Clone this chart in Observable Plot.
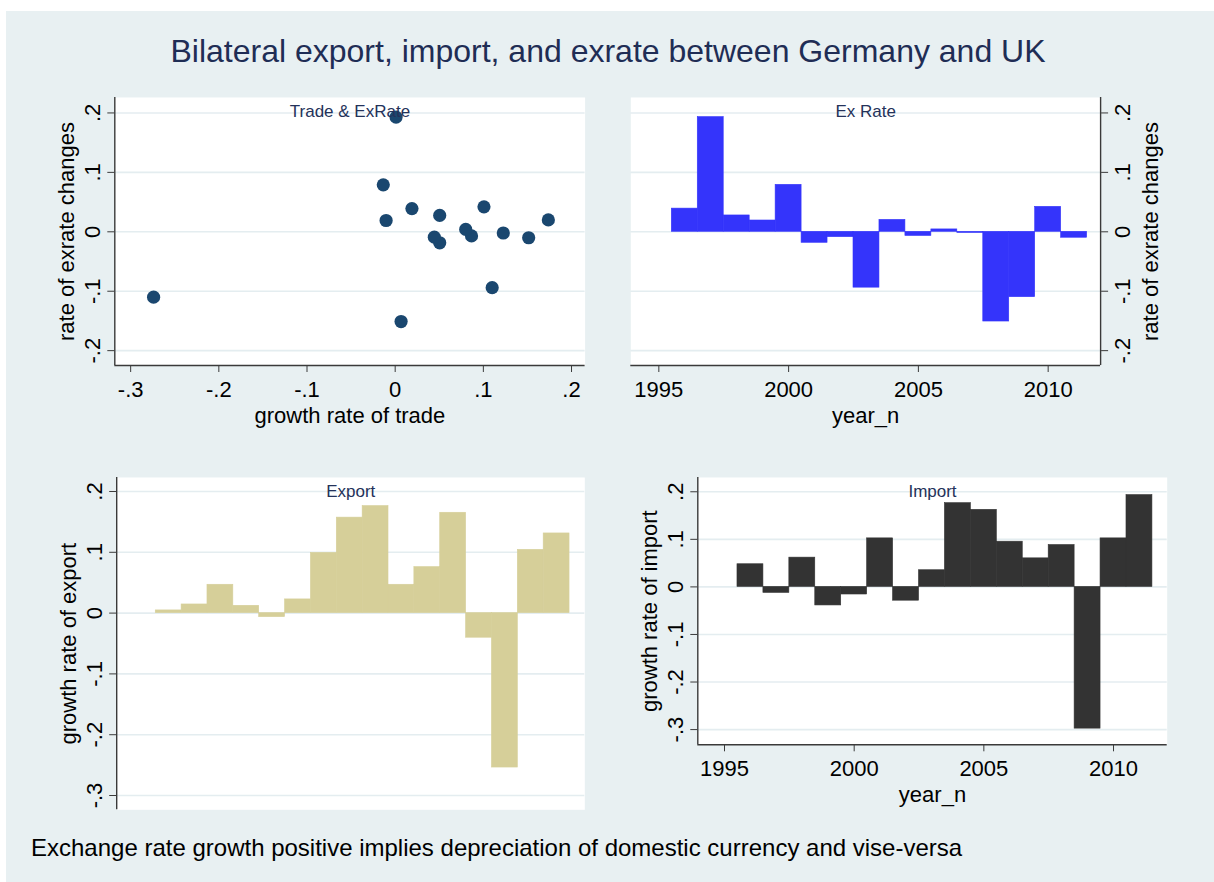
<!DOCTYPE html>
<html><head><meta charset="utf-8">
<script src="https://cdn.jsdelivr.net/npm/d3@7"></script>
<script src="https://cdn.jsdelivr.net/npm/@observablehq/plot@0.6"></script>
<style>
html,body{margin:0;padding:0;background:#fff;}
#wrap{position:relative;width:1214px;height:882px;overflow:hidden;font-family:"Liberation Sans",Arial,Helvetica,sans-serif;}
#bg{position:absolute;left:6px;top:11px;right:0;bottom:0;background:#e8f0f2;}
.panel{position:absolute;}
#title{position:absolute;left:0;width:1216px;top:35px;text-align:center;font-size:32px;line-height:32px;color:#1f2d55;white-space:nowrap;}
#caption{position:absolute;left:31px;top:836px;font-size:24px;line-height:24px;color:#000;white-space:nowrap;}
</style></head>
<body>
<div id="wrap">
<div id="bg"></div>
<div id="title">Bilateral export, import, and exrate between Germany and UK</div>
<div id="caption">Exchange rate growth positive implies depreciation of domestic currency and vise-versa</div>
</div>
<script>
// ---- data ----
const years = [1996,1997,1998,1999,2000,2001,2002,2003,2004,2005,2006,2007,2008,2009,2010,2011];
const exrateGrowth = [0.039,0.193,0.0275,0.019,0.079,-0.0185,-0.009,-0.094,0.020,-0.007,0.004,-0.002,-0.151,-0.110,0.042,-0.010];
const tradeGrowth  = [0.019,0.001,0.0505,-0.0103,-0.0135,0.0505,0.0444,0.110,0.1737,0.0866,0.080,0.1226,0.0067,-0.274,0.1007,0.1514];
const exportGrowth = [0.0044,0.0142,0.0466,0.012,-0.0066,0.0225,0.099,0.157,0.176,0.0466,0.0756,0.165,-0.0405,-0.254,0.104,0.131];
const importGrowth = [0.0476,-0.0126,0.0615,-0.039,-0.016,0.102,-0.029,0.035,0.176,0.162,0.095,0.060,0.088,-0.298,0.102,0.193];

const exrateTicks = [-0.2,-0.1,0,0.1,0.2];
const growthTicks = [-0.3,-0.2,-0.1,0,0.1,0.2];
const tradeTicks  = [-0.3,-0.2,-0.1,0,0.1,0.2];
const yearTicks   = [1995,2000,2005,2010];

const titles = {
  scatter: "Trade & ExRate", ex: "Ex Rate", exp: "Export", imp: "Import",
  tradeX: "growth rate of trade", exY: "rate of exrate changes",
  yearX: "year_n", expY: "growth rate of export", impY: "growth rate of import"
};

// ---- styling ----
const FONT = '"Liberation Sans", Arial, Helvetica, sans-serif';
const GRID = "#e4edf0";
const AXIS = "#3a3a3a";
const NAVY = "#1a476f";
const SUBC = "#24325a";
const BLUE = "#3434fb";
const SAND = "#d6cf99";
const DARK = "#333333";

const fmt = d => d === 0 ? "0" : (d < 0 ? "-" : "") + Math.abs(d).toFixed(1).replace(/^0/, "");
const yearFmt = d => String(d);

const byYear = vals => years.map((year, i) => ({year, v: vals[i]}));
const scatterData = years.map((year, i) => ({year, trade: tradeGrowth[i], ex: exrateGrowth[i]}));

function bars(vals, color) {
  return Plot.rect(byYear(vals), {
    x1: d => d.year - 0.5, x2: d => d.year + 0.5, y1: 0, y2: "v",
    fill: color, stroke: color, strokeWidth: 0.6
  });
}

function panel(o) {
  const left = o.yAnchor === "left";
  const marks = [
    Plot.frame({fill: "white", stroke: null}),
    Plot.gridY(o.yTicks, {stroke: GRID, strokeOpacity: 1, strokeWidth: 1.6}),
    ...o.marks,
    Plot.text([o.sub], {frameAnchor: "top", dy: 14, lineAnchor: "middle", fontSize: 17, fill: SUBC}),
    Plot.axisY(o.yTicks, {anchor: o.yAnchor, tickSize: 7, tickPadding: 15, tickRotate: -90,
      textAnchor: "middle", lineAnchor: "middle", tickFormat: fmt, fontSize: 22,
      label: null, stroke: AXIS, fill: "#000"}),
    Plot.ruleX([o.xDomain[left ? 0 : 1]], {stroke: AXIS, strokeWidth: 1.4}),
    Plot.text([o.yLabel], {frameAnchor: o.yAnchor, dx: left ? -48 : 50, rotate: -90,
      textAnchor: "middle", lineAnchor: "middle", fontSize: 22, fill: "#000"})
  ];
  if (o.xTicks) {
    marks.push(
      Plot.axisX(o.xTicks, {anchor: "bottom", tickSize: 7, tickPadding: 17, lineAnchor: "middle",
        tickFormat: o.xFmt, fontSize: 22, label: null, stroke: AXIS, fill: "#000"}),
      Plot.ruleY([o.yDomain[0]], {stroke: AXIS, strokeWidth: 1.4}),
      Plot.text([o.xLabel], {frameAnchor: "bottom", dy: 50, lineAnchor: "middle", fontSize: 22, fill: "#000"})
    );
  }
  const svg = Plot.plot({
    width: o.width, height: o.height,
    marginLeft: o.mL, marginRight: o.mR, marginTop: o.mT, marginBottom: o.mB,
    x: {domain: o.xDomain, axis: null},
    y: {domain: o.yDomain, axis: null},
    style: {background: "transparent", fontFamily: FONT, fontSize: "22px", color: "#000", overflow: "visible"},
    marks
  });
  svg.classList.add("panel");
  svg.style.position = "absolute";
  svg.style.left = o.left + "px";
  svg.style.top = o.top + "px";
  svg.style.maxWidth = "none";
  document.getElementById("wrap").appendChild(svg);
}

// Top-left: scatter
panel({
  left: 0, top: 90, width: 600, height: 340, mL: 114.3, mR: 15.4, mT: 7, mB: 65,
  xDomain: [-0.318, 0.2154], yDomain: [-0.225, 0.226],
  yTicks: exrateTicks, xTicks: tradeTicks, xFmt: fmt, yAnchor: "left",
  sub: titles.scatter, xLabel: titles.tradeX, yLabel: titles.exY,
  marks: [Plot.dot(scatterData, {x: "trade", y: "ex", r: 6.6, fill: NAVY, stroke: null})]
});

// Top-right: exchange rate bars
panel({
  left: 600, top: 90, width: 614, height: 340, mL: 30.3, mR: 113.9, mT: 7, mB: 65,
  xDomain: [1993.92, 2012.02], yDomain: [-0.225, 0.226],
  yTicks: exrateTicks, xTicks: yearTicks, xFmt: yearFmt, yAnchor: "right",
  sub: titles.ex, xLabel: titles.yearX, yLabel: titles.exY,
  marks: [bars(exrateGrowth, BLUE)]
});

// Bottom-left: export bars (no x axis)
panel({
  left: 0, top: 460, width: 600, height: 370, mL: 116.2, mR: 15.7, mT: 17, mB: 20.7,
  xDomain: [1993.99, 2012.09], yDomain: [-0.3235, 0.223],
  yTicks: growthTicks, xTicks: null, yAnchor: "left",
  sub: titles.exp, yLabel: titles.expY,
  marks: [bars(exportGrowth, SAND)]
});

// Bottom-right: import bars
panel({
  left: 600, top: 460, width: 614, height: 370, mL: 97.3, mR: 47.3, mT: 17, mB: 85.7,
  xDomain: [1993.97, 2012.07], yDomain: [-0.332, 0.230],
  yTicks: growthTicks, xTicks: yearTicks, xFmt: yearFmt, yAnchor: "left",
  sub: titles.imp, xLabel: titles.yearX, yLabel: titles.impY,
  marks: [bars(importGrowth, DARK)]
});
</script>
</body></html>
